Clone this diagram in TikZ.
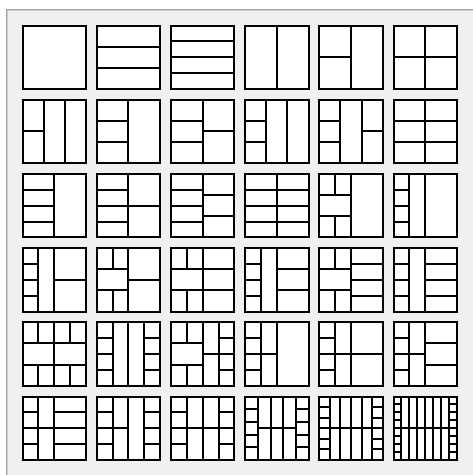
\documentclass[tikz,border=0pt]{standalone}
\definecolor{panel}{HTML}{F0F0F0}
\definecolor{edgeA}{HTML}{A0A0A0}
\definecolor{edgeB}{HTML}{D0D0D0}
\tikzset{
  cut/.style={line width=2pt, draw=black, line cap=butt},
  tileedge/.style={line width=2pt, draw=black, line join=miter},
}
\newcommand\hcuts[3]{%
  \pgfmathtruncatemacro\hcutn{#3-1}%
  \foreach \k in {1,...,\hcutn}{\draw[cut] (#1,{\k/#3}) -- (#2,{\k/#3});}}
\newcommand\vcut[3]{\draw[cut] (#1,#2) -- (#1,#3);}
\newcommand\tile[3]{%
  \begin{scope}[shift={(22.5+74.2*#1,25.5+74.2*#2)}, x=63.5pt, y=-63.5pt]
    \fill[white] (0,0) rectangle (1,1);
    #3
    \draw[tileedge] (0,0) rectangle (1,1);
  \end{scope}}
% left half pattern: thirds, with top and bottom third split at 1/4
\newcommand\lefthalfpat{\hcuts{0}{0.5}{3}\vcut{0.25}{0}{1/3}\vcut{0.25}{2/3}{1}}
% n columns, outer columns split in n, inner in 2
\newcommand\ncolpat[1]{%
  \pgfmathtruncatemacro\ncolm{#1-1}%
  \foreach \j in {1,...,\ncolm}{\vcut{\j/#1}{0}{1}}%
  \hcuts{0}{1/#1}{#1}\hcuts{\ncolm/#1}{1}{#1}\hcuts{1/#1}{\ncolm/#1}{2}}
\begin{document}
\begin{tikzpicture}[x=1pt, y=-1pt]
\useasboundingbox (0,0) rectangle (473,475);
\fill[white] (0,0) rectangle (473,475);
\fill[panel] (6,9) rectangle (473,475);
\draw[edgeA, line width=1pt] (6.5,475) -- (6.5,9.5) -- (473,9.5);
\draw[edgeB, line width=1pt] (7.5,475) -- (7.5,10.5) -- (473,10.5);
% row 0
\tile{0}{0}{}
\tile{1}{0}{\hcuts{0}{1}{3}}
\tile{2}{0}{\hcuts{0}{1}{4}}
\tile{3}{0}{\vcut{0.5}{0}{1}}
\tile{4}{0}{\vcut{0.5}{0}{1}\hcuts{0}{0.5}{2}}
\tile{5}{0}{\vcut{0.5}{0}{1}\hcuts{0}{1}{2}}
% row 1
\tile{0}{1}{\vcut{1/3}{0}{1}\vcut{2/3}{0}{1}\hcuts{0}{1/3}{2}}
\tile{1}{1}{\vcut{0.5}{0}{1}\hcuts{0}{0.5}{3}}
\tile{2}{1}{\vcut{0.5}{0}{1}\hcuts{0}{0.5}{3}\hcuts{0.5}{1}{2}}
\tile{3}{1}{\vcut{1/3}{0}{1}\vcut{2/3}{0}{1}\hcuts{0}{1/3}{3}}
\tile{4}{1}{\vcut{1/3}{0}{1}\vcut{2/3}{0}{1}\hcuts{0}{1/3}{3}\hcuts{2/3}{1}{2}}
\tile{5}{1}{\vcut{0.5}{0}{1}\hcuts{0}{1}{3}}
% row 2
\tile{0}{2}{\vcut{0.5}{0}{1}\hcuts{0}{0.5}{4}}
\tile{1}{2}{\vcut{0.5}{0}{1}\hcuts{0}{0.5}{4}\hcuts{0.5}{1}{2}}
\tile{2}{2}{\vcut{0.5}{0}{1}\hcuts{0}{0.5}{4}\hcuts{0.5}{1}{3}}
\tile{3}{2}{\vcut{0.5}{0}{1}\hcuts{0}{1}{4}}
\tile{4}{2}{\vcut{0.5}{0}{1}\lefthalfpat}
\tile{5}{2}{\vcut{0.25}{0}{1}\vcut{0.5}{0}{1}\hcuts{0}{0.25}{4}}
% row 3
\tile{0}{3}{\vcut{0.25}{0}{1}\vcut{0.5}{0}{1}\hcuts{0}{0.25}{4}\hcuts{0.5}{1}{2}}
\tile{1}{3}{\vcut{0.5}{0}{1}\lefthalfpat\hcuts{0.5}{1}{2}}
\tile{2}{3}{\vcut{0.5}{0}{1}\lefthalfpat\hcuts{0.5}{1}{3}}
\tile{3}{3}{\vcut{0.25}{0}{1}\vcut{0.5}{0}{1}\hcuts{0}{0.25}{4}\hcuts{0.5}{1}{3}}
\tile{4}{3}{\vcut{0.5}{0}{1}\lefthalfpat\hcuts{0.5}{1}{4}}
\tile{5}{3}{\vcut{0.25}{0}{1}\vcut{0.5}{0}{1}\hcuts{0}{0.25}{4}\hcuts{0.5}{1}{4}}
% row 4
\tile{0}{4}{\hcuts{0}{1}{3}%
  \vcut{0.25}{0}{1/3}\vcut{0.5}{0}{1/3}\vcut{0.75}{0}{1/3}%
  \vcut{0.5}{1/3}{2/3}%
  \vcut{0.25}{2/3}{1}\vcut{0.5}{2/3}{1}\vcut{0.75}{2/3}{1}}
\tile{1}{4}{\vcut{0.25}{0}{1}\vcut{0.5}{0}{1}\vcut{0.75}{0}{1}\hcuts{0}{0.25}{4}\hcuts{0.75}{1}{4}}
\tile{2}{4}{\vcut{0.5}{0}{1}\vcut{0.75}{0}{1}\lefthalfpat\hcuts{0.5}{0.75}{2}\hcuts{0.75}{1}{4}}
\tile{3}{4}{\vcut{0.25}{0}{1}\vcut{0.5}{0}{1}\hcuts{0}{0.25}{4}\hcuts{0.25}{0.5}{2}}
\tile{4}{4}{\vcut{0.25}{0}{1}\vcut{0.5}{0}{1}\hcuts{0}{0.25}{4}\hcuts{0.25}{0.5}{2}\hcuts{0.5}{1}{2}}
\tile{5}{4}{\vcut{0.25}{0}{1}\vcut{0.5}{0}{1}\hcuts{0}{0.25}{4}\hcuts{0.25}{0.5}{2}\hcuts{0.5}{1}{3}}
% row 5
\tile{0}{5}{\vcut{0.25}{0}{1}\vcut{0.5}{0}{1}\hcuts{0}{0.25}{4}\hcuts{0.25}{0.5}{2}\hcuts{0.5}{1}{4}}
\tile{1}{5}{\vcut{0.25}{0}{1}\vcut{0.5}{0}{1}\vcut{0.75}{0}{1}\hcuts{0}{0.25}{4}\hcuts{0.25}{0.5}{2}\hcuts{0.75}{1}{4}}
\tile{2}{5}{\vcut{0.25}{0}{1}\vcut{0.5}{0}{1}\vcut{0.75}{0}{1}\hcuts{0}{0.25}{4}\hcuts{0.25}{0.75}{2}\hcuts{0.75}{1}{4}}
\tile{3}{5}{\ncolpat{5}}
\tile{4}{5}{\ncolpat{6}}
\tile{5}{5}{\ncolpat{8}}
\end{tikzpicture}
\end{document}
